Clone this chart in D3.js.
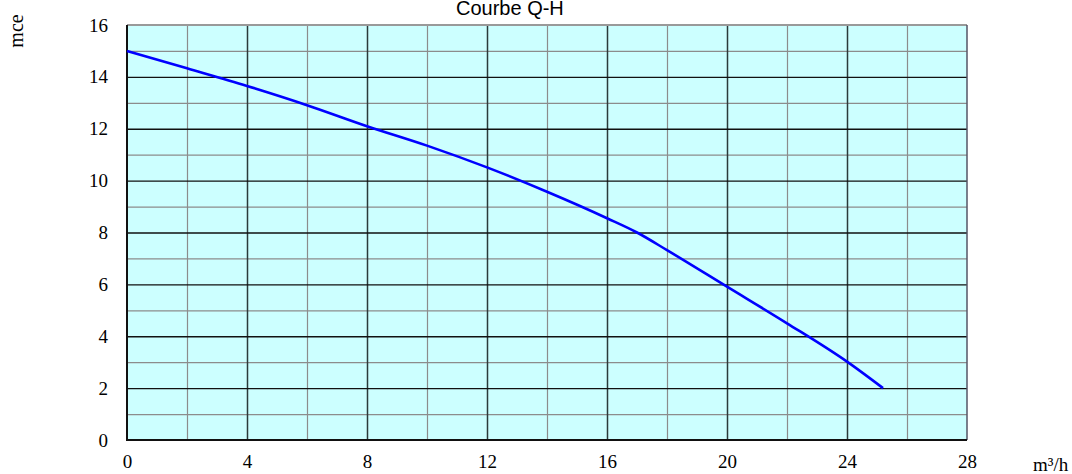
<!DOCTYPE html>
<html>
<head>
<meta charset="utf-8">
<script src="https://cdn.jsdelivr.net/npm/d3@7"></script>
<style>
  html, body { margin: 0; padding: 0; background: #fff; }
  svg { display: block; }
</style>
</head>
<body>
<svg id="chart" width="1072" height="474"></svg>
<script>
// ---- data ----
const flow = [0, 2, 4, 6, 8, 10, 12, 14, 16, 17, 18, 20, 22, 24, 25.2];
const head = [15, 14.33, 13.65, 12.91, 12.1, 11.35, 10.51, 9.57, 8.55, 8.0, 7.32, 5.91, 4.5, 3.02, 2.0];
const xTicks = [0, 4, 8, 12, 16, 20, 24, 28];
const yTicks = [0, 2, 4, 6, 8, 10, 12, 14, 16];
const xMinor = [2, 6, 10, 14, 18, 22, 26];
const yMinor = [1, 3, 5, 7, 9, 11, 13, 15];
const chartTitle = "Courbe Q-H";
const yTitle = "mce";
const xTitle = "m³/h";

(function () {
const svg = d3.select("#chart");
const pL = 127, pR = 967, pT = 25, pB = 440;
const x = d3.scaleLinear().domain([0, 28]).range([pL, pR]);
const y = d3.scaleLinear().domain([0, 16]).range([pB, pT]);

// plot background
svg.append("rect").attr("x", pL).attr("y", pT)
  .attr("width", pR - pL).attr("height", pB - pT)
  .attr("fill", "#CCFFFF");

// minor grid
const gMinX = svg.append("g").attr("transform", `translate(0,${pB})`)
  .call(d3.axisBottom(x).tickValues(xMinor).tickSize(-(pB - pT)).tickFormat(""));
const gMinY = svg.append("g").attr("transform", `translate(${pL},0)`)
  .call(d3.axisLeft(y).tickValues(yMinor).tickSize(-(pR - pL)).tickFormat(""));
[gMinX, gMinY].forEach(g => {
  g.select(".domain").remove();
  g.selectAll("line").attr("stroke", "#8c8c8c").attr("stroke-width", 1.2);
});

// major grid
const gMajX = svg.append("g").attr("transform", `translate(0,${pB})`)
  .call(d3.axisBottom(x).tickValues(xTicks.filter(v => v > 0 && v < 28)).tickSize(-(pB - pT)).tickFormat(""));
const gMajY = svg.append("g").attr("transform", `translate(${pL},0)`)
  .call(d3.axisLeft(y).tickValues(yTicks.filter(v => v > 0 && v < 16)).tickSize(-(pR - pL)).tickFormat(""));
gMajX.select(".domain").remove();
gMajY.select(".domain").remove();
gMajX.selectAll("line").attr("stroke", "#2a3a3a").attr("stroke-width", 1.5);
gMajY.selectAll("line").attr("stroke", "#111").attr("stroke-width", 1.3);

// frame
svg.append("line").attr("x1", pL).attr("x2", pR).attr("y1", pT).attr("y2", pT)
  .attr("stroke", "#999").attr("stroke-width", 2);
svg.append("line").attr("x1", pR).attr("x2", pR).attr("y1", pT).attr("y2", pB)
  .attr("stroke", "#556").attr("stroke-width", 1.5);
svg.append("line").attr("x1", pL).attr("x2", pL).attr("y1", pT).attr("y2", pB + 1)
  .attr("stroke", "#111").attr("stroke-width", 2);
svg.append("line").attr("x1", pL).attr("x2", pR).attr("y1", pB).attr("y2", pB)
  .attr("stroke", "#111").attr("stroke-width", 2);

// curve
const pts = flow.map((q, i) => [q, head[i]]);
svg.append("path").datum(pts)
  .attr("fill", "none").attr("stroke", "#0000FF").attr("stroke-width", 2.6)
  .attr("d", d3.line().x(d => x(d[0])).y(d => y(d[1])).curve(d3.curveMonotoneX));

// tick labels
const fontSerif = "'Liberation Serif', 'Times New Roman', serif";
const axY = svg.append("g").attr("transform", `translate(${pL - 19},0)`)
  .call(d3.axisLeft(y).tickValues(yTicks).tickSize(0).tickPadding(0));
axY.select(".domain").remove();
axY.selectAll("text").attr("font-family", fontSerif).attr("font-size", 19).attr("fill", "#000");

const axX = svg.append("g").attr("transform", `translate(0,${pB + 14})`)
  .call(d3.axisBottom(x).tickValues(xTicks).tickSize(0).tickPadding(0));
axX.select(".domain").remove();
axX.selectAll("text").attr("font-family", fontSerif).attr("font-size", 19).attr("fill", "#000");

// titles
svg.append("text").attr("x", 456).attr("y", 15).attr("text-anchor", "start")
  .attr("font-family", "'Liberation Sans', Arial, sans-serif").attr("font-size", 20)
  .attr("fill", "#000").text(chartTitle);
svg.append("text").attr("transform", "translate(23,31) rotate(-90)").attr("text-anchor", "middle")
  .attr("font-family", fontSerif).attr("font-size", 20).attr("fill", "#000").text(yTitle);
svg.append("text").attr("x", 1033).attr("y", 471)
  .attr("font-family", fontSerif).attr("font-size", 19).attr("fill", "#000").text(xTitle);
})();
</script>
</body>
</html>
